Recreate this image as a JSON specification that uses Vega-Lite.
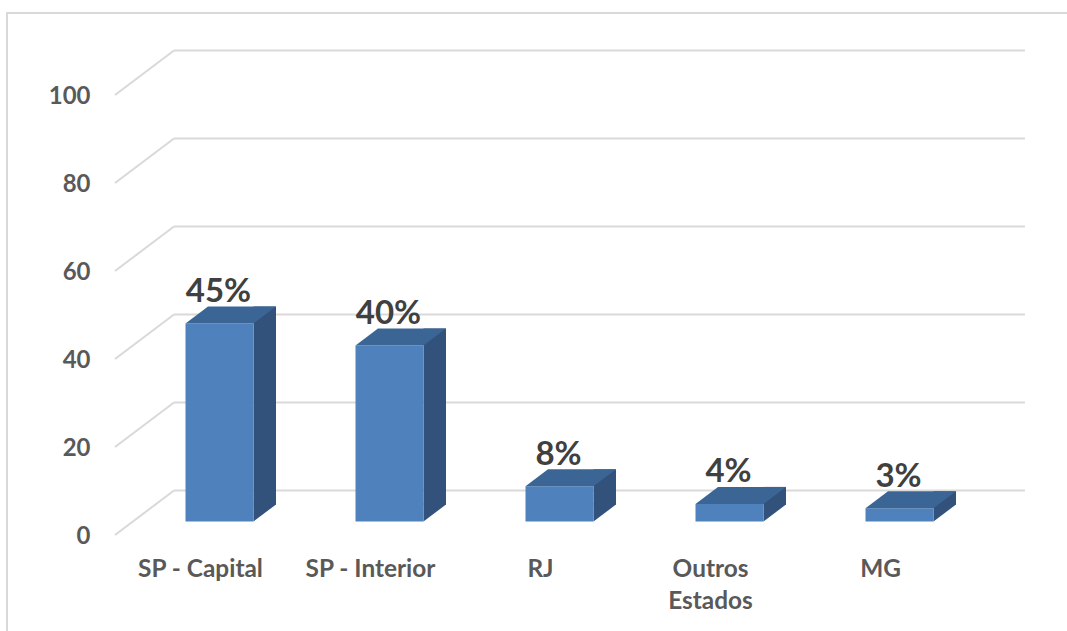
{
"$schema":"https://vega.github.io/schema/vega-lite/v6.json",
"width":851,"height":440,
"autosize":{"type":"none"},
"padding":{"left":174,"top":95,"right":42,"bottom":96},
"background":"white",
"config":{"view":{"stroke":null},"font":"Lato"},
"datasets":{
"bars":[
{"regiao":"SP - Capital","valor":45,"base":0,"rotulo":"45%"},
{"regiao":"SP - Interior","valor":40,"base":0,"rotulo":"40%"},
{"regiao":"RJ","valor":8,"base":0,"rotulo":"8%"},
{"regiao":"Outros Estados","valor":4,"base":0,"rotulo":"4%"},
{"regiao":"MG","valor":3,"base":0,"rotulo":"3%"}],
"ticks":[{"t":0},{"t":20},{"t":40},{"t":60},{"t":80},{"t":100}]
},
"encoding":{
"x":{"field":"regiao","type":"nominal","sort":null,"title":null,
"scale":{"range":[-58.5,791.5],"paddingInner":0,"paddingOuter":0},
"axis":{"domain":false,"ticks":false,"grid":false,"labelAngle":0,"labelFont":"Lato","labelFontSize":24.4,"labelFontWeight":"bold","labelColor":"#595959","labelPadding":34,"labelLineHeight":32,"labelBaseline":"middle",
"labelExpr":"datum.label=='Outros Estados'?['Outros','Estados']:datum.label"}}
},
"layer":[
{"data":{"values":[{"regiao":"SP - Capital"}]},
"mark":{"type":"point","filled":false,"opacity":1,"size":4,"stroke":"#d9d9d9","strokeWidth":2,
"shape":"M-193.5,96 L-193.5,-522 L866.5,-522"},
"encoding":{"y":{"datum":0,"type":"quantitative","scale":{"domain":[0,100],"nice":false},"title":null,
"axis":{"values":[0,20,40,60,80,100],"domain":false,"ticks":false,"grid":false,"offset":59,"labelPadding":25,"labelOffset":1,"labelFont":"Lato","labelFontSize":24,"labelFontWeight":"bold","labelColor":"#595959"}}}},
{"data":{"name":"ticks"},
"mark":{"type":"rule","stroke":"#d9d9d9","strokeWidth":2,"yOffset":-44.5},
"encoding":{"x":null,"y":{"field":"t","type":"quantitative","title":null}}},
{"data":{"name":"ticks"},
"mark":{"type":"point","filled":false,"opacity":1,"size":4,"stroke":"#d9d9d9","strokeWidth":2,"xOffset":-85.5,
"shape":"M0,0 L59,-44.5"},
"encoding":{"x":{"datum":"SP - Capital"},"y":{"field":"t","type":"quantitative","title":null}}},
{"data":{"name":"bars"},
"mark":{"type":"bar","width":22.5,"color":"#32527c","xOffset":64.25,"yOffset":-30.5,"y2Offset":-30.5},
"encoding":{"y":{"field":"valor","type":"quantitative","stack":null,"title":null},"y2":{"field":"base"}}},
{"data":{"name":"bars"},
"mark":{"type":"point","filled":true,"opacity":1,"size":4,"color":"#32527c","strokeWidth":0,"xOffset":53,"yOffset":-13.5,
"shape":"M0,0 L22.5,-17 L22.5,-18 L0,-18 Z"},
"encoding":{"y":{"datum":0,"type":"quantitative","title":null}}},
{"data":{"name":"bars"},
"mark":{"type":"bar","width":68,"color":"#4f81bd","xOffset":19,"yOffset":-13.5,"y2Offset":-13.5},
"encoding":{"y":{"field":"valor","type":"quantitative","stack":null,"title":null},"y2":{"field":"base"}}},
{"data":{"name":"bars"},
"mark":{"type":"point","filled":true,"opacity":1,"size":4,"color":"#3b6595","strokeWidth":0,"xOffset":53,"yOffset":-13.5,
"shape":"M-68,0 L-45.5,-17 L22.5,-17 L0,0 Z"},
"encoding":{"y":{"field":"valor","type":"quantitative","title":null}}},
{"data":{"name":"bars"},
"mark":{"type":"text","font":"Lato","fontSize":33,"fontWeight":700,"color":"#404040","xOffset":18,"dy":-35,"baseline":"alphabetic","align":"center"},
"encoding":{"y":{"field":"valor","type":"quantitative","title":null},"text":{"field":"rotulo"}}}
]
}
